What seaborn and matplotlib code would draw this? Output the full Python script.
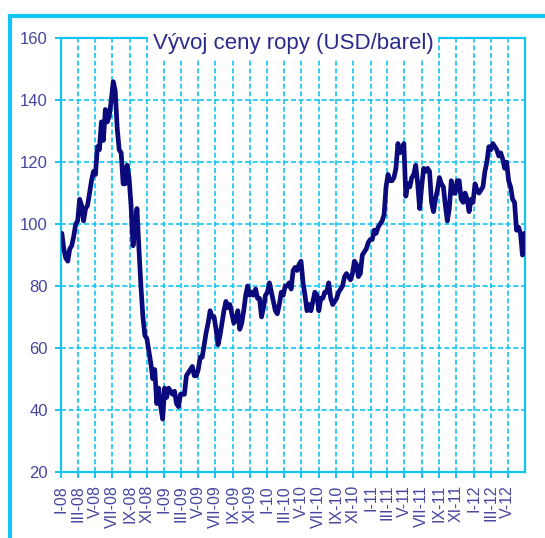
import matplotlib
matplotlib.use("Agg")
import matplotlib.pyplot as plt
from matplotlib.lines import Line2D
import pandas as pd
import seaborn as sns

# Weekly (Friday) Brent price readings, USD/barrel
price_2008 = [97, 92, 89, 88,
              92, 93, 96, 100, 101,
              108, 106, 101, 105,
              106, 110, 114, 117,
              116, 125, 124, 133, 127,
              137, 133, 135, 140,
              146, 143, 131, 124,
              123, 113, 113, 119, 115,
              106, 93, 98, 105,
              92, 80, 70, 64, 63,
              59, 55, 50, 53,
              42, 47, 41, 37]
price_2009 = [47, 44, 47, 46, 45,
              46, 42, 41, 45,
              45, 45, 51, 52,
              53, 54, 51, 51,
              53, 57, 57, 61, 65,
              68, 72, 70, 70,
              66, 61, 64, 68, 72,
              75, 73, 74, 71,
              68, 69, 72, 66,
              68, 72, 77, 80, 77,
              78, 77, 79, 76,
              76, 70, 73, 77]
price_2010 = [78, 81, 78, 75, 72,
              71, 74, 78, 77,
              80, 80, 81, 79,
              85, 86, 85, 87, 88,
              81, 77, 72, 74,
              72, 75, 78, 77,
              72, 76, 76, 78, 78,
              81, 76, 74, 75,
              76, 78, 79, 80,
              83, 84, 83, 82, 84,
              88, 87, 83, 84,
              90, 91, 92, 94, 95]
price_2011 = [95, 98, 97, 99,
              100, 101, 103, 112,
              116, 114, 114, 115,
              118, 126, 123, 124, 126,
              109, 113, 112, 115,
              116, 119, 113, 105,
              112, 118, 117, 118, 117,
              107, 104, 108, 111,
              115, 113, 112, 106, 101,
              105, 114, 110, 110,
              114, 114, 108, 107,
              110, 108, 104, 108, 107]
price_2012 = [113, 111, 110, 111,
              112, 117, 120, 125,
              124, 126, 125, 124, 122,
              123, 121, 118, 120,
              114, 112, 108, 107,
              98, 99, 97, 90, 97]

tick_dates = ["2008-01-01", "2008-03-01", "2008-05-01", "2008-07-01", "2008-09-01", "2008-11-01",
              "2009-01-01", "2009-03-01", "2009-05-01", "2009-07-01", "2009-09-01", "2009-11-01",
              "2010-01-01", "2010-03-01", "2010-05-01", "2010-07-01", "2010-09-01", "2010-11-01",
              "2011-01-01", "2011-03-01", "2011-05-01", "2011-07-01", "2011-09-01", "2011-11-01",
              "2012-01-01", "2012-03-01", "2012-05-01"]
tick_labels = ["I-08", "III-08", "V-08", "VII-08", "IX-08", "XI-08",
               "I-09", "III-09", "V-09", "VII-09", "IX-09", "XI-09",
               "I-10", "III-10", "V-10", "VII-10", "IX-10", "XI-10",
               "I-11", "III-11", "V-11", "VII-11", "IX-11", "XI-11",
               "I-12", "III-12", "V-12"]
y_ticks = [20, 40, 60, 80, 100, 120, 140, 160]
title = "Vývoj ceny ropy (USD/barel)"

sns.set_theme(style="white")
plt.rcParams['font.family'] = ['Liberation Sans Narrow', 'Liberation Sans', 'DejaVu Sans']

prices = price_2008 + price_2009 + price_2010 + price_2011 + price_2012
dates = pd.date_range("2008-01-04", "2012-06-29", freq="W-FRI")
n = min(len(dates), len(prices))
df = pd.DataFrame({"date": dates[:n], "price": prices[:n]})

CYAN = "#14c4f2"
NAVY = "#0a0a7c"
LABEL = "#4646a0"
TITLE = "#2a2a8c"

W, H = 545, 538
fig = plt.figure(figsize=(W / 100, H / 100), dpi=100)
fig.patch.set_facecolor("white")
ax = fig.add_axes([61 / W, 1 - 471.7 / H, 464 / W, 433.4 / H])

sns.lineplot(data=df, x="date", y="price", ax=ax, color=NAVY, linewidth=3.4, zorder=3)

ax.set_xlim(pd.Timestamp("2008-01-01"), pd.Timestamp("2012-07-01"))
ax.set_ylim(20, 160)
ax.set_xticks(pd.to_datetime(tick_dates))
ax.set_xticklabels(tick_labels, rotation=90)
ax.set_yticks(y_ticks)
ax.set_yticklabels([str(v) for v in y_ticks])
ax.set_xlabel("")
ax.set_ylabel("")

ax.grid(True, color=CYAN, linestyle=(0, (3, 1.6)), linewidth=1.2, zorder=1)
ax.set_axisbelow(True)
for s in ax.spines.values():
    s.set_color(CYAN)
    s.set_linewidth(1.6)
    s.set_visible(True)
ax.tick_params(axis="both", which="major", direction="out", length=4.5, width=1.4,
               color=CYAN, labelcolor=LABEL, pad=5, left=True, bottom=True)
ax.tick_params(axis="y", labelsize=12)
ax.tick_params(axis="x", labelsize=11.5)

ax.text(0.5, 0.988, title, transform=ax.transAxes, ha="center", va="center",
        fontsize=16, color=TITLE, zorder=10, clip_on=False,
        bbox=dict(facecolor="white", edgecolor="none", pad=3.5))

# outer frame lines (top and left)
ytop = 1 - 15.5 / H
fig.add_artist(Line2D([8 / W, 1], [ytop, ytop], transform=fig.transFigure,
                      color=CYAN, linewidth=3, solid_capstyle="butt"))
fig.add_artist(Line2D([9.7 / W, 9.7 / W], [0, ytop + 1.5 / H], transform=fig.transFigure,
                      color=CYAN, linewidth=3, solid_capstyle="butt"))

fig.savefig("out.png", dpi=100, facecolor="white")
